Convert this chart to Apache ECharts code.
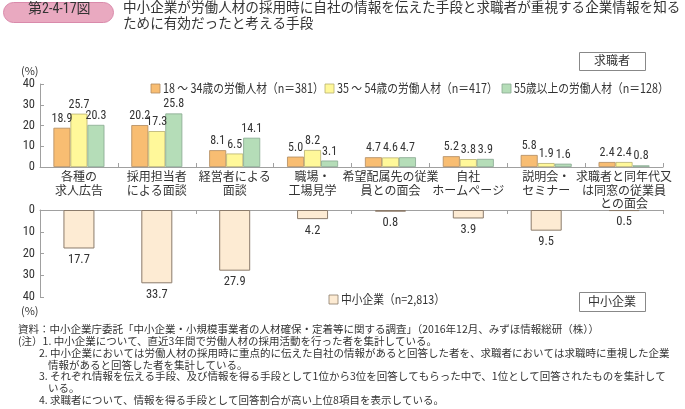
<!DOCTYPE html>
<html>
<head>
<meta charset="utf-8">
<script src="https://cdn.jsdelivr.net/npm/echarts@6/dist/echarts.min.js"></script>
<style>
html,body{margin:0;padding:0;background:#fff;}
#c{width:685px;height:409px;}
</style>
</head>
<body>
<div id="c"></div>
<script>
const categories = [
  '各種の\n求人広告',
  '採用担当者\nによる面談',
  '経営者による\n面談',
  '職場・\n工場見学',
  '希望配属先の従業\n員との面会',
  '自社\nホームページ',
  '説明会・\nセミナー',
  '求職者と同年代又\nは同窓の従業員\nとの面会'
];
const seriesNames = [
  '18 ～ 34歳の労働人材（n＝381）',
  '35 ～ 54歳の労働人材（n＝417）',
  '55歳以上の労働人材（n＝128）'
];
const age18to34 = [18.9, 20.2, 8.1, 5.0, 4.7, 5.2, 5.8, 2.4];
const age35to54 = [25.7, 17.3, 6.5, 8.2, 4.6, 3.8, 1.9, 2.4];
const age55plus = [20.3, 25.8, 14.1, 3.1, 4.7, 3.9, 1.6, 0.8];
const smeName = '中小企業（n=2,813）';
const smeValues = [17.7, 33.7, 27.9, 4.2, 0.8, 3.9, 9.5, 0.5];
const yTicks = {min: 0, max: 40, interval: 10};

const notes = [
  {t: '資料：中小企業庁委託「中小企業・小規模事業者の人材確保・定着等に関する調査」（2016年12月、みずほ情報総研（株））', x: 18},
  {t: '(注）1. 中小企業について、直近3年間で労働人材の採用活動を行った者を集計している。', x: 18},
  {t: '2. 中小企業においては労働人材の採用時に重点的に伝えた自社の情報があると回答した者を、求職者においては求職時に重視した企業', x: 39},
  {t: '情報があると回答した者を集計している。', x: 48},
  {t: '3. それぞれ情報を伝える手段、及び情報を得る手段として1位から3位を回答してもらった中で、1位として回答されたものを集計して', x: 39},
  {t: 'いる。', x: 48},
  {t: '4. 求職者について、情報を得る手段として回答割合が高い上位8項目を表示している。', x: 39}
];

const FONT = '"Noto Sans CJK JP", "Noto Sans", sans-serif';

// pick a condensed Latin font if one is installed; size number labels so "4.7" fits a 17px bar
const cv = document.createElement('canvas').getContext('2d');
function hasFont(name) {
  return ['monospace', 'serif'].some(base => {
    cv.font = '40px ' + base;
    const w0 = cv.measureText('0123456789.abcXYZ').width;
    cv.font = '40px "' + name + '", ' + base;
    return cv.measureText('0123456789.abcXYZ').width !== w0;
  });
}
const condensedCandidates = ['Liberation Sans Narrow', 'Roboto Condensed', 'Open Sans Condensed', 'Arial Narrow', 'DejaVu Sans Condensed'];
const narrowName = condensedCandidates.find(hasFont);
const NARROW = narrowName ? '"' + narrowName + '", "Noto Sans CJK JP", sans-serif' : FONT;
cv.font = '12.5px ' + NARROW;
const w47 = cv.measureText('4.7').width;
const numSize = Math.min(12.5, Math.round(12.5 * 15.0 / w47 * 10) / 10);

const colors = ['#F8BD72', '#FFF89A', '#B5DDB8'];
const smeColor = '#FDEBD3';
const axisColor = '#A0A0A0';
const textColor = '#333';
const barBorder = ['#B08A60', '#B8B070', '#88A890'];

const chart = echarts.init(document.getElementById('c'));

function fmt(p){ return Number(p.value).toFixed(1); }

const topSeries = [age18to34, age35to54, age55plus].map((d, i) => ({
  name: seriesNames[i],
  type: 'bar',
  xAxisIndex: 0, yAxisIndex: 0,
  data: d,
  barWidth: 17,
  barGap: '0%',
  itemStyle: {color: colors[i], borderColor: barBorder[i], borderWidth: 0.8},
  label: {show: true, position: 'top', distance: 3, formatter: fmt,
          fontSize: numSize, color: textColor, fontFamily: NARROW}
}));

const noteGraphics = notes.map((n, i) => ({
  type: 'text', left: n.x, top: 324 + i * 11.8,
  style: {text: n.t, fontSize: 10.5, fill: textColor, fontFamily: FONT}
}));

const legendItems = [
  {name: seriesNames[0], x: 151, y: 84, color: colors[0], border: barBorder[0]},
  {name: seriesNames[1], x: 325, y: 84, color: colors[1], border: barBorder[1]},
  {name: seriesNames[2], x: 502, y: 84, color: colors[2], border: barBorder[2]},
  {name: smeName, x: 329, y: 295, color: smeColor, border: '#8B7B6B'}
];
const legendGraphics = [];
legendItems.forEach(it => {
  legendGraphics.push({type: 'rect', x: it.x, y: it.y, shape: {width: 9, height: 9},
    style: {fill: it.color, stroke: it.border, lineWidth: 0.8}});
  legendGraphics.push({type: 'text', x: it.x + 12, y: it.y + 4.5, scaleX: 0.86,
    style: {text: it.name, fontSize: 12.5, fill: textColor, fontFamily: FONT, verticalAlign: 'middle'}});
});

const axisCommon = {
  axisLine: {show: true, lineStyle: {color: axisColor, width: 1}},
  axisTick: {show: true, inside: true, length: 4, lineStyle: {color: axisColor}},
  splitLine: {show: false}
};

chart.setOption({
  animation: false,
  textStyle: {fontFamily: FONT},
  grid: [
    {left: 40, top: 84, width: 623, height: 83},
    {left: 40, top: 210, width: 623, height: 87}
  ],
  xAxis: [
    Object.assign({type: 'category', gridIndex: 0, data: categories,
      axisLabel: {interval: 0, fontSize: 12, lineHeight: 13.5, color: textColor, margin: 3, fontFamily: FONT}
    }, axisCommon),
    Object.assign({type: 'category', gridIndex: 1, data: categories, position: 'top',
      axisLabel: {show: false}
    }, axisCommon)
  ],
  yAxis: [
    Object.assign({type: 'value', gridIndex: 0, min: yTicks.min, max: yTicks.max, interval: yTicks.interval,
      axisLabel: {fontSize: 12.5, color: textColor, margin: 5, fontFamily: NARROW}
    }, axisCommon),
    Object.assign({type: 'value', gridIndex: 1, inverse: true, min: yTicks.min, max: yTicks.max, interval: yTicks.interval,
      axisLabel: {fontSize: 12.5, color: textColor, margin: 5, fontFamily: NARROW}
    }, axisCommon)
  ],
  series: topSeries.concat([{
    name: smeName,
    type: 'bar',
    xAxisIndex: 1, yAxisIndex: 1,
    data: smeValues,
    barWidth: 31,
    itemStyle: {color: smeColor, borderColor: '#8B7B6B', borderWidth: 1},
    label: {show: true, position: 'bottom', distance: 5, formatter: fmt,
            fontSize: 12.5, color: textColor, fontFamily: NARROW}
  }]),
  graphic: [
    {type: 'rect', left: 3, top: 2, shape: {width: 110, height: 20, r: 10},
     style: {fill: '#E9A9C0', stroke: '#D98AAB', lineWidth: 1}},
    {type: 'text', left: 28, top: 3, style: {text: '第2-4-17図', fontSize: 14, fill: textColor, fontFamily: NARROW}},
    {type: 'text', left: 123, top: 0, style: {text: '中小企業が労働人材の採用時に自社の情報を伝えた手段と求職者が重視する企業情報を知る', fontSize: 13.6, fill: textColor, fontFamily: FONT}},
    {type: 'text', left: 123, top: 16, style: {text: 'ために有効だったと考える手段', fontSize: 13.6, fill: textColor, fontFamily: FONT}},
    {type: 'rect', left: 579, top: 52, shape: {width: 66, height: 18},
     style: {fill: '#fff', stroke: '#888', lineWidth: 1}},
    {type: 'text', left: 594, top: 54, style: {text: '求職者', fontSize: 12, fill: textColor, fontFamily: FONT}},
    {type: 'rect', left: 579, top: 292, shape: {width: 66, height: 19},
     style: {fill: '#fff', stroke: '#888', lineWidth: 1}},
    {type: 'text', left: 588, top: 295, style: {text: '中小企業', fontSize: 12, fill: textColor, fontFamily: FONT}},
    {type: 'text', left: 21, top: 65, style: {text: '(%)', fontSize: 11, fill: textColor, fontFamily: FONT}},
    {type: 'text', left: 21, top: 305, style: {text: '(%)', fontSize: 11, fill: textColor, fontFamily: FONT}}
  ].concat(legendGraphics, noteGraphics)
});
</script>
</body>
</html>
